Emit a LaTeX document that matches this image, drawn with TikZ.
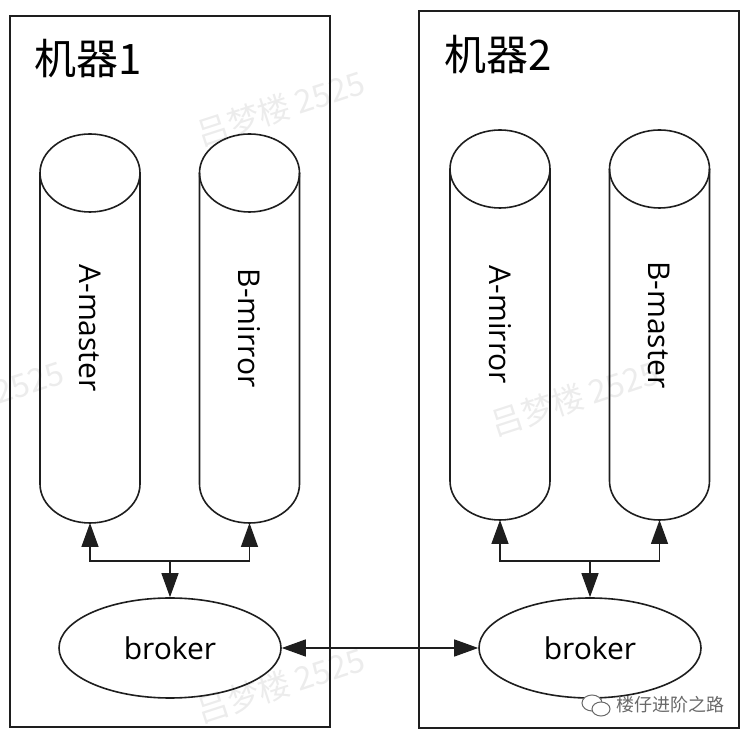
\documentclass[tikz,border=0pt]{standalone}
\usepackage{fontspec}
\setmainfont{Open Sans}
\newfontfamily\cjk{Noto Sans CJK SC}
\usepackage{xcolor}
\definecolor{inkline}{RGB}{30,30,30}
\definecolor{wmgray}{RGB}{236,236,236}
\definecolor{logogray}{RGB}{105,105,105}
\usepackage{tikz}
\usetikzlibrary{shapes.geometric,arrows.meta,positioning,calc}
\tikzset{
  machine/.style={draw=inkline,line width=2pt},
  cyl/.style={draw=inkline,line width=1.6pt},
  cyl_text/.style={rotate=-90,font=\fontsize{30}{36}\selectfont,inner sep=0pt},
  broker_node/.style={ellipse,draw=inkline,line width=1.6pt,minimum width=222pt,
    minimum height=100pt,inner sep=0pt,font=\fontsize{30}{36}\selectfont},
  title/.style={font=\cjk\fontsize{42}{48}\selectfont,inner sep=0pt},
  wm/.style={font=\cjk\fontsize{32}{36}\selectfont,text=wmgray,rotate=18,inner sep=0pt},
  logo/.style={font=\cjk\fontsize{18}{20}\selectfont,text=logogray,inner sep=0pt},
  arr/.style={-{Triangle[length=24pt,width=17pt]},line width=1.4pt,draw=inkline},
  arr_both/.style={{Triangle[length=24pt,width=17pt]}-{Triangle[length=24pt,width=17pt]},
    line width=1.4pt,draw=inkline},
}

\begin{document}
\begin{tikzpicture}[x=1pt,y=1pt]
  \useasboundingbox (0,0) rectangle (746,738);
  % watermarks
  \begin{scope}
    \clip (0,0) rectangle (746,738);
    \node[wm] (wm1) at (281,630) {吕梦楼 2525};
    \node[wm] (wm2) at (575,340) {吕梦楼 2525};
    \node[wm] (wm3) at (281,53) {吕梦楼 2525};
    \node[wm] (wm4) at (-20,340) {吕梦楼 2525};
  \end{scope}

  % machine 1
  \draw[machine] (10,11) rectangle (330,722);
  \node[title] (m1) at (88,679) {机器1};
  \draw[cyl] (40,565) -- (40,254) arc[start angle=180,end angle=360,x radius=50,y radius=39] -- (140,565);
  \draw[cyl] (90,565) ellipse[x radius=50,y radius=39];
  \node[cyl_text] (amaster) at (90,410) {A-master};
  \coordinate (amaster-b) at (90,215);
  \draw[cyl] (199.5,565) -- (199.5,254) arc[start angle=180,end angle=360,x radius=50,y radius=39] -- (299.5,565);
  \draw[cyl] (249.5,565) ellipse[x radius=50,y radius=39];
  \node[cyl_text] (bmirror) at (249.5,410) {B-mirror};
  \coordinate (bmirror-b) at (249.5,215);
  \node[broker_node] (br1) at (170,90) {broker};
  \coordinate (j1) at (170,177);

  % machine 2
  \draw[machine] (419,10) rectangle (739,727);
  \node[title] (m2) at (498,683) {机器2};
  \draw[cyl] (450,569) -- (450,257) arc[start angle=180,end angle=360,x radius=50,y radius=39] -- (550,569);
  \draw[cyl] (500,569) ellipse[x radius=50,y radius=39];
  \node[cyl_text] (amirror) at (500,413) {A-mirror};
  \coordinate (amirror-b) at (500,218);
  \draw[cyl] (609.5,569) -- (609.5,257) arc[start angle=180,end angle=360,x radius=50,y radius=39] -- (709.5,569);
  \draw[cyl] (659.5,569) ellipse[x radius=50,y radius=39];
  \node[cyl_text] (bmaster) at (659.5,413) {B-master};
  \coordinate (bmaster-b) at (659.5,218);
  \node[broker_node] (br2) at (590,90) {broker};
  \coordinate (j2) at (590,177);

  % connectors
  \draw[arr] (j1) -| (amaster-b);
  \draw[arr] (j1) -| (bmirror-b);
  \draw[arr] (j1) -- (br1.north);
  \draw[arr] (j2) -| (amirror-b);
  \draw[arr] (j2) -| (bmaster-b);
  \draw[arr] (j2) -- (br2.north);
  \draw[arr_both] (br1.east) -- (br2.west);

  % account mark
  \draw[logogray,line width=1pt,fill=white] (592,35) ellipse[x radius=10,y radius=8];
  \draw[logogray,line width=1pt,fill=white] (601,29) ellipse[x radius=9,y radius=7];
  \node[logo] (acct) at (670,33) {楼仔进阶之路};
\end{tikzpicture}
\end{document}
